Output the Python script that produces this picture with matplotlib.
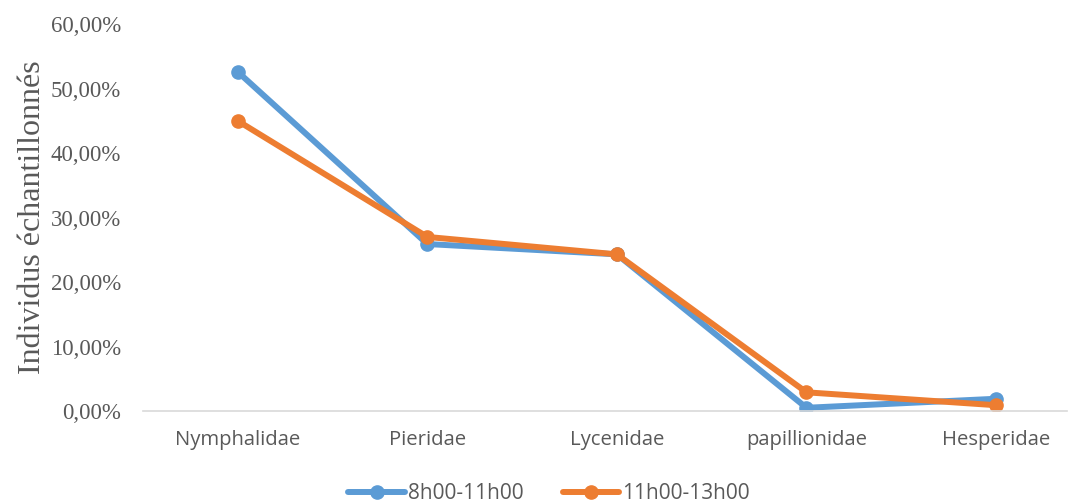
import matplotlib
matplotlib.use('Agg')
import matplotlib.pyplot as plt
import numpy as np

familles = ['Nymphalidae', 'Pieridae', 'Lycenidae', 'papillionidae', 'Hesperidae']
matin = [0.526, 0.259, 0.243, 0.005, 0.019]      # 8h00-11h00
midi = [0.450, 0.270, 0.243, 0.029, 0.009]       # 11h00-13h00
yticks = [0, 0.1, 0.2, 0.3, 0.4, 0.5, 0.6]

bleu = '#5B9BD5'
orange = '#ED7D31'
gris = '#595959'

fig = plt.figure(figsize=(10.77, 5.04), dpi=100)
ax = fig.add_axes([0.1328, 0.1845, 0.858, 0.7675])

x = np.arange(len(familles))
ax.plot(x, matin, color=bleu, linewidth=4.3, marker='o', markersize=9.5, label='8h00-11h00', solid_capstyle='round')
ax.plot(x, midi, color=orange, linewidth=4.3, marker='o', markersize=9.5, label='11h00-13h00', solid_capstyle='round')

ax.set_xlim(-0.5, 4.375)
ax.set_ylim(0, 0.6)
ax.set_yticks(yticks)
ax.set_yticklabels(['{:.2f}%'.format(v * 100).replace('.', ',') for v in yticks],
                   fontfamily='Liberation Serif', fontsize=16.5, color=gris)
ax.set_xticks(x)
ax.set_xticklabels(familles, fontfamily='Open Sans', fontsize=14.6, color=gris)
ax.tick_params(axis='y', length=0, pad=16)
ax.tick_params(axis='x', length=0, pad=14)

for s in ['top', 'right', 'left']:
    ax.spines[s].set_visible(False)
ax.spines['bottom'].set_color('#D9D9D9')
ax.spines['bottom'].set_linewidth(1.2)

ax.set_ylabel('Individus échantillonnés', fontfamily='Liberation Serif', fontsize=23, color=gris)
ax.yaxis.set_label_coords(-0.104, 0.5)

leg = fig.legend(loc='lower center', bbox_to_anchor=(0.51, -0.038), ncol=2, frameon=False,
                 prop={'family': 'Open Sans', 'size': 15}, handlelength=2.7, columnspacing=1.9,
                 handletextpad=0.15, labelcolor=gris)

fig.savefig('out.png', dpi=100)
